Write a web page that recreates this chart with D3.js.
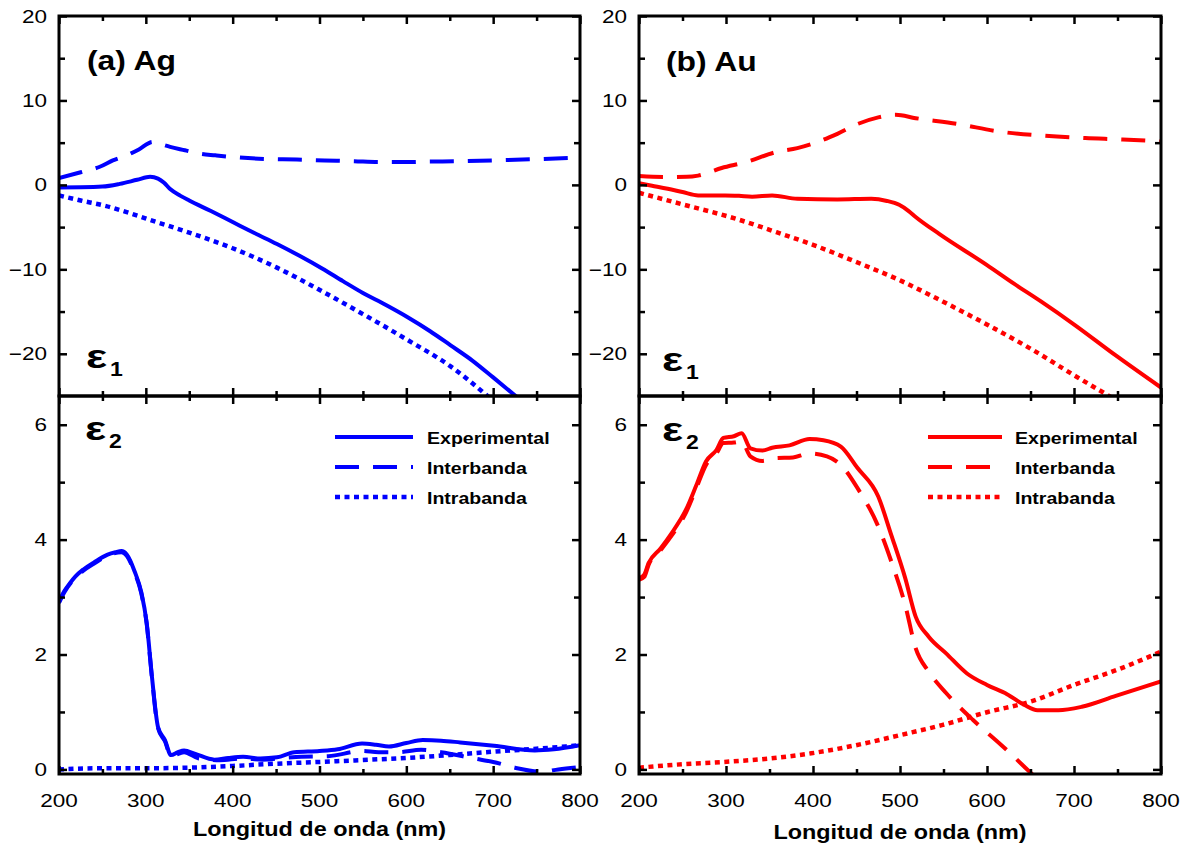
<!DOCTYPE html>
<html><head><meta charset="utf-8">
<script src="https://cdn.jsdelivr.net/npm/d3@7"></script>
<style>body{margin:0;background:#fff}svg{display:block}</style>
</head><body>
<svg id="c" width="1186" height="849"></svg>
<script>
// ---------- DATA ----------
const xMajorTicks = [200, 300, 400, 500, 600, 700, 800];
const xMinorTicks = [250, 350, 450, 550, 650, 750];
const e1MajorTicks = [20, 10, 0, -10, -20];
const e1MinorTicks = [15, 5, -5, -15];
const e2MajorTicks = [0, 2, 4, 6];
const e2MinorTicks = [1, 3, 5];
const seriesNames = ["Experimental", "Interbanda", "Intrabanda"];
const panelTitles = ["(a) Ag", "(b) Au"];
const xAxisTitle = "Longitud de onda (nm)";

// Ag epsilon1
const agE1Exp = [[200,-0.3],[225,-0.28],[250,-0.2],[270,0.12],[290,0.6],[305,0.95],[314,0.75],[321,0.25],[328,-0.5],[340,-1.3],[350,-1.85],[375,-3.1],[400,-4.4],[425,-5.7],[451,-7.0],[477,-8.4],[503,-9.9],[527,-11.4],[550,-12.8],[576,-14.2],[602,-15.7],[627,-17.3],[651,-19.0],[676,-20.8],[700,-22.8],[727,-25.1],[740,-26.2]];
const agE1Inter = [[200,0.8],[225,1.5],[247,2.15],[262,2.9],[278,3.5],[292,4.2],[308,5.1],[318,4.8],[328,4.5],[345,4.1],[362,3.7],[380,3.5],[400,3.3],[430,3.1],[474,3.0],[506,2.9],[540,2.8],[568,2.7],[600,2.7],[623,2.75],[660,2.8],[701,2.9],[750,3.05],[800,3.25]];
const agE1Intra = [[200,-1.25],[225,-1.85],[252,-2.45],[280,-3.3],[311,-4.35],[350,-5.65],[400,-7.5],[451,-9.8],[503,-12.6],[550,-15.3],[602,-18.4],[651,-21.5],[690,-24.7],[700,-25.6]];
// Ag epsilon2
const agE2Exp = [[200,2.92],[206,3.1],[213,3.25],[219,3.36],[228,3.48],[240,3.6],[256,3.74],[265,3.78],[272,3.8],[278,3.74],[287,3.45],[295,3.07],[301,2.55],[307,1.62],[314,0.74],[322,0.51],[329,0.25],[337,0.3],[344,0.33],[357,0.27],[379,0.17],[395,0.2],[412,0.22],[432,0.19],[451,0.21],[471,0.3],[500,0.32],[521,0.35],[549,0.45],[565,0.43],[580,0.4],[600,0.46],[619,0.51],[640,0.5],[662,0.47],[701,0.41],[748,0.33],[770,0.35],[800,0.42]];
const agE2Inter = [[200,2.9],[206,3.08],[219,3.34],[228,3.46],[240,3.58],[256,3.72],[272,3.78],[278,3.72],[287,3.43],[295,3.05],[301,2.53],[307,1.6],[314,0.72],[322,0.49],[329,0.23],[344,0.3],[361,0.19],[385,0.16],[412,0.19],[434,0.17],[459,0.2],[479,0.22],[510,0.23],[549,0.32],[568,0.3],[590,0.3],[617,0.34],[640,0.3],[678,0.19],[700,0.13],[725,0.03],[756,-0.04],[775,0.0],[800,0.04]];
const agE2Intra = [[200,0.0],[250,0.02],[300,0.02],[350,0.03],[400,0.06],[451,0.1],[500,0.13],[545,0.16],[600,0.2],[650,0.25],[701,0.31],[750,0.36],[800,0.42]];
// Au epsilon1
const auE1Exp = [[200,0.2],[215,-0.1],[233,-0.46],[250,-0.85],[268,-1.25],[299,-1.25],[315,-1.3],[330,-1.4],[353,-1.25],[382,-1.65],[428,-1.72],[467,-1.65],[485,-1.9],[499,-2.36],[510,-3.1],[518,-3.8],[545,-5.8],[600,-9.5],[631,-11.7],[662,-13.8],[701,-16.6],[748,-20.2],[800,-24.0]];
const auE1Inter = [[200,1.04],[233,0.92],[255,0.95],[268,1.1],[295,2.0],[323,2.7],[358,3.9],[382,4.35],[405,5.07],[428,6.05],[452,7.24],[475,8.0],[495,8.3],[518,7.9],[565,7.24],[615,6.3],[662,5.85],[713,5.54],[756,5.38],[800,5.14]];
const auE1Intra = [[200,-0.94],[252,-2.36],[311,-4.0],[358,-5.6],[400,-7.1],[449,-9.1],[502,-11.4],[549,-13.8],[602,-16.65],[651,-19.45],[701,-22.6],[742,-25.1],[760,-26.2]];
// Au epsilon2
const auE2Exp = [[200,3.33],[206,3.39],[211,3.59],[225,3.85],[236,4.08],[254,4.52],[266,4.95],[277,5.36],[289,5.56],[297,5.77],[309,5.8],[318,5.85],[328,5.59],[342,5.55],[353,5.6],[373,5.64],[396,5.75],[412,5.73],[432,5.62],[451,5.25],[475,4.75],[490,4.08],[506,3.33],[518,2.66],[533,2.31],[553,2.02],[577,1.67],[600,1.47],[623,1.31],[643,1.12],[658,1.03],[682,1.03],[709,1.09],[748,1.28],[800,1.53]];
const auE2Inter = [[200,3.3],[206,3.35],[211,3.56],[225,3.82],[236,4.04],[254,4.47],[266,4.9],[277,5.3],[289,5.5],[297,5.68],[309,5.69],[318,5.71],[328,5.45],[342,5.37],[357,5.42],[377,5.43],[396,5.5],[416,5.45],[432,5.3],[451,4.9],[475,4.23],[490,3.62],[506,2.86],[518,2.11],[533,1.7],[553,1.33],[584,0.86],[616,0.43],[651,-0.07],[660,-0.2]];
const auE2Intra = [[200,0.03],[250,0.09],[298,0.13],[350,0.19],[398,0.28],[449,0.42],[501,0.6],[548,0.77],[601,1.0],[650,1.18],[700,1.47],[749,1.73],[800,2.05]];

// ---------- DRAWING ----------
const FONT = "'Liberation Sans', Arial, Helvetica, sans-serif";
const svg = d3.select("#c");
const TOP0 = 16, MID = 396, BOT = 774;
const styles = [
  {w: 4, dash: null},
  {w: 4, dash: "24,14"},
  {w: 4.5, dash: "5,4.5"}
];

function label(g, x, y, s, o) {
  return g.append("text")
    .attr("transform", `translate(${x},${y}) scale(${o.sx || 1},1)`)
    .attr("text-anchor", o.anchor || "start")
    .attr("font-family", FONT)
    .attr("font-size", o.size)
    .attr("font-weight", o.weight || "normal")
    .attr("fill", "#000")
    .text(s);
}

const panels = [
  {x0: 59, x1: 580, color: "#0000ff", title: panelTitles[0], titleX: 87, titleY: 70,
   e1: [agE1Exp, agE1Inter, agE1Intra], e2: [agE2Exp, agE2Inter, agE2Intra],
   legLine: [335, 413], legText: 427, eps: [[86, 368], [85, 440]], axTitleY: 836},
  {x0: 639, x1: 1161, color: "#ff0000", title: panelTitles[1], titleX: 666, titleY: 71,
   e1: [auE1Exp, auE1Inter, auE1Intra], e2: [auE2Exp, auE2Inter, auE2Intra],
   legLine: [928, 1002], legText: 1015, eps: [[662, 371], [662, 441]], axTitleY: 839}
];

panels.forEach((p, pi) => {
  const x = d3.scaleLinear().domain([200, 800]).range([p.x0, p.x1]);
  const yT = d3.scaleLinear().domain([-25, 20]).range([MID, TOP0]);
  const yB = d3.scaleLinear().domain([-0.08, 6.5]).range([BOT, MID]);
  const g = svg.append("g");

  const defs = svg.append("defs");
  defs.append("clipPath").attr("id", "ct" + pi).append("rect")
    .attr("x", p.x0).attr("y", TOP0).attr("width", p.x1 - p.x0).attr("height", MID - TOP0);
  defs.append("clipPath").attr("id", "cb" + pi).append("rect")
    .attr("x", p.x0).attr("y", MID).attr("width", p.x1 - p.x0).attr("height", BOT - MID);

  // series
  const drawSet = (sets, y, clip) => {
    const line = d3.line().x(d => x(d[0])).y(d => y(d[1])).curve(d3.curveMonotoneX);
    sets.forEach((data, i) => {
      g.append("path").datum(data)
        .attr("clip-path", `url(#${clip})`)
        .attr("d", line)
        .attr("fill", "none")
        .attr("stroke", p.color)
        .attr("stroke-width", styles[i].w)
        .attr("stroke-dasharray", styles[i].dash)
        .attr("stroke-linejoin", "round");
    });
  };
  drawSet(p.e1, yT, "ct" + pi);
  drawSet(p.e2, yB, "cb" + pi);

  // axes ticks
  const tickStyle = sel => {
    sel.select(".domain").remove();
    sel.selectAll(".tick line").attr("stroke", "#000").attr("stroke-width", 2.5);
    sel.selectAll(".tick text").remove();
  };
  const addAxis = (axisFn, scale, vals, size, tx, ty) => {
    g.append("g").attr("transform", `translate(${tx},${ty})`)
      .call(axisFn(scale).tickValues(vals).tickSize(-size).tickFormat(""))
      .call(tickStyle);
  };
  [[d3.axisTop, TOP0], [d3.axisBottom, MID], [d3.axisTop, MID], [d3.axisBottom, BOT]].forEach(([fn, yy]) => {
    addAxis(fn, x, xMajorTicks, 8, 0, yy);
    addAxis(fn, x, xMinorTicks, 5, 0, yy);
  });
  [[d3.axisLeft, p.x0], [d3.axisRight, p.x1]].forEach(([fn, xx]) => {
    addAxis(fn, yT, e1MajorTicks, 8, xx, 0);
    addAxis(fn, yT, e1MinorTicks, 6, xx, 0);
    addAxis(fn, yB, e2MajorTicks, 8, xx, 0);
    addAxis(fn, yB, e2MinorTicks, 6, xx, 0);
  });

  // frames
  g.append("rect").attr("x", p.x0).attr("y", TOP0).attr("width", p.x1 - p.x0).attr("height", MID - TOP0)
    .attr("fill", "none").attr("stroke", "#000").attr("stroke-width", 3);
  g.append("rect").attr("x", p.x0).attr("y", MID).attr("width", p.x1 - p.x0).attr("height", BOT - MID)
    .attr("fill", "none").attr("stroke", "#000").attr("stroke-width", 3);

  // tick labels
  const fmt = v => (v < 0 ? "\u2212" + Math.abs(v) : String(v));
  e1MajorTicks.forEach(v => label(g, p.x0 - 12, yT(v) + 6.5, fmt(v), {size: 18, sx: 1.25, anchor: "end"}));
  e2MajorTicks.forEach(v => label(g, p.x0 - 12, yB(v) + 6.5, fmt(v), {size: 18, sx: 1.25, anchor: "end"}));
  xMajorTicks.forEach(v => label(g, x(v), 807, fmt(v), {size: 18, sx: 1.25, anchor: "middle"}));

  // axis title
  label(g, (p.x0 + p.x1) / 2, p.axTitleY, xAxisTitle, {size: 20, sx: 1.17, anchor: "middle", weight: "bold"});

  // panel title
  label(g, p.titleX, p.titleY, p.title, {size: 27, sx: 1.18, weight: "bold"});

  // epsilon labels
  p.eps.forEach(([ex, ey], k) => {
    label(g, ex, ey, "\u03b5", {size: 33, sx: 1.35, weight: "bold"});
    label(g, ex + 24, ey + 8, String(k + 1), {size: 20, sx: 1.15, weight: "bold"});
  });

  // legend
  const legY = [437, 467, 497];
  seriesNames.forEach((name, i) => {
    g.append("line")
      .attr("x1", p.legLine[0]).attr("x2", p.legLine[1])
      .attr("y1", legY[i]).attr("y2", legY[i])
      .attr("stroke", p.color).attr("stroke-width", styles[i].w)
      .attr("stroke-dasharray", styles[i].dash);
    label(g, p.legText, legY[i] + 7, name, {size: 17, sx: 1.15, weight: "bold"});
  });
});
</script>
</body></html>
